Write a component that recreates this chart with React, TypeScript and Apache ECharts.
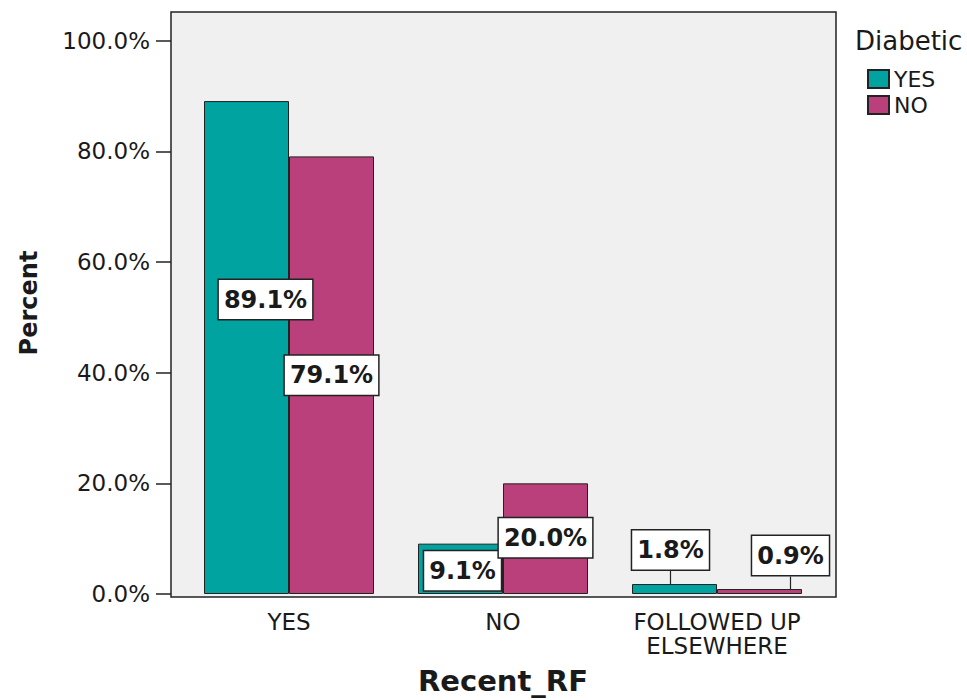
import React, { useEffect, useRef } from "react";
import * as echarts from "echarts";

const categories = ["YES", "NO", "FOLLOWED UP\nELSEWHERE"];
const diabeticYes = [89.1, 9.1, 1.8];
const diabeticNo = [79.1, 20.0, 0.9];
const yTickValues = [0, 20, 40, 60, 80, 100];
const seriesNames = ["YES", "NO"];

// label nudges (layout only)
const yesLabelShift = [[19, -48], [2, 2], [-4, -39]];
const noLabelShift = [[0, 0], [0, -1], [31, -36]];

const TEAL = "#00a3a0";
const MAGENTA = "#b9407b";
const INK = "#1a1a1a";
const FONT = "DejaVu Sans";

function makeSeries(name: string, values: number[], color: string, shift: number[][]) {
  return {
    name,
    type: "bar",
    barWidth: 85,
    barGap: "0%",
    itemStyle: { color, borderColor: "#222", borderWidth: 1 },
    data: values.map((v, i) => ({ value: v, labelLine: { show: i === 2 } })),
    label: {
      show: true,
      position: "inside",
      formatter: (p: any) => Number(p.value).toFixed(1) + "%",
      fontFamily: FONT,
      fontWeight: "bold",
      fontSize: 24,
      lineHeight: 25,
      color: INK,
      backgroundColor: "#ffffff",
      borderColor: "#222",
      borderWidth: 1.5,
      padding: [7, 5],
    },
    labelLine: { show: false, lineStyle: { color: "#222", width: 1.2 } },
    labelLayout: (p: any) => ({ dx: shift[p.dataIndex][0], dy: shift[p.dataIndex][1] }),
  };
}

export default function App() {
  const ref = useRef<HTMLDivElement>(null);
  useEffect(() => {
    if (!ref.current) return;
    const chart = echarts.init(ref.current, null, { renderer: "svg" });
    chart.setOption({
      animation: false,
      backgroundColor: "#ffffff",
      grid: { left: 182, right: 143, top: 12, bottom: 103, containLabel: false },
      title: {
        text: "Diabetic",
        left: 850,
        top: 23,
        textStyle: { fontFamily: FONT, fontSize: 26, fontWeight: "normal", color: INK },
      },
      legend: {
        data: seriesNames,
        orient: "vertical",
        left: 862,
        top: 63,
        icon: "rect",
        itemWidth: 21,
        itemHeight: 18,
        itemGap: 4,
        textStyle: { fontFamily: FONT, fontSize: 22, color: INK },
      },
      graphic: [
        {
          type: "rect",
          z: -10,
          silent: true,
          shape: { x: 171, y: 12, width: 665, height: 585 },
          style: { fill: "#f0f0f0", stroke: "#222", lineWidth: 1.5 },
        },
      ],
      xAxis: {
        type: "category",
        data: categories,
        name: "Recent_RF",
        nameLocation: "middle",
        nameGap: 72,
        nameTextStyle: { fontFamily: FONT, fontSize: 29, fontWeight: "bold", color: INK },
        axisLine: { show: false },
        axisTick: { alignWithLabel: true, length: 12, lineStyle: { color: "#222", width: 1.5 } },
        axisLabel: {
          interval: 0,
          hideOverlap: false,
          fontFamily: FONT,
          fontSize: 23,
          lineHeight: 24,
          color: INK,
          margin: 16,
        },
      },
      yAxis: {
        type: "value",
        min: 0,
        max: 105.2,
        interval: 20,
        offset: 11,
        name: "Percent",
        nameLocation: "middle",
        nameRotate: 90,
        nameGap: 130,
        nameTextStyle: { fontFamily: FONT, fontSize: 24, fontWeight: "bold", color: INK },
        splitLine: { show: false },
        axisLine: { show: false },
        axisTick: { show: true, length: 15, customValues: yTickValues, lineStyle: { color: "#222", width: 1.5 } },
        axisLabel: {
          customValues: yTickValues,
          fontFamily: FONT,
          fontSize: 23,
          color: INK,
          margin: 21,
          formatter: (v: number) => v.toFixed(1) + "%",
        },
      },
      series: [
        makeSeries(seriesNames[0], diabeticYes, TEAL, yesLabelShift),
        makeSeries(seriesNames[1], diabeticNo, MAGENTA, noLabelShift),
      ],
    });
    return () => chart.dispose();
  }, []);
  return (
    <div
      ref={ref}
      style={{ position: "fixed", left: 0, top: 0, width: 967, height: 700 }}
    />
  );
}
